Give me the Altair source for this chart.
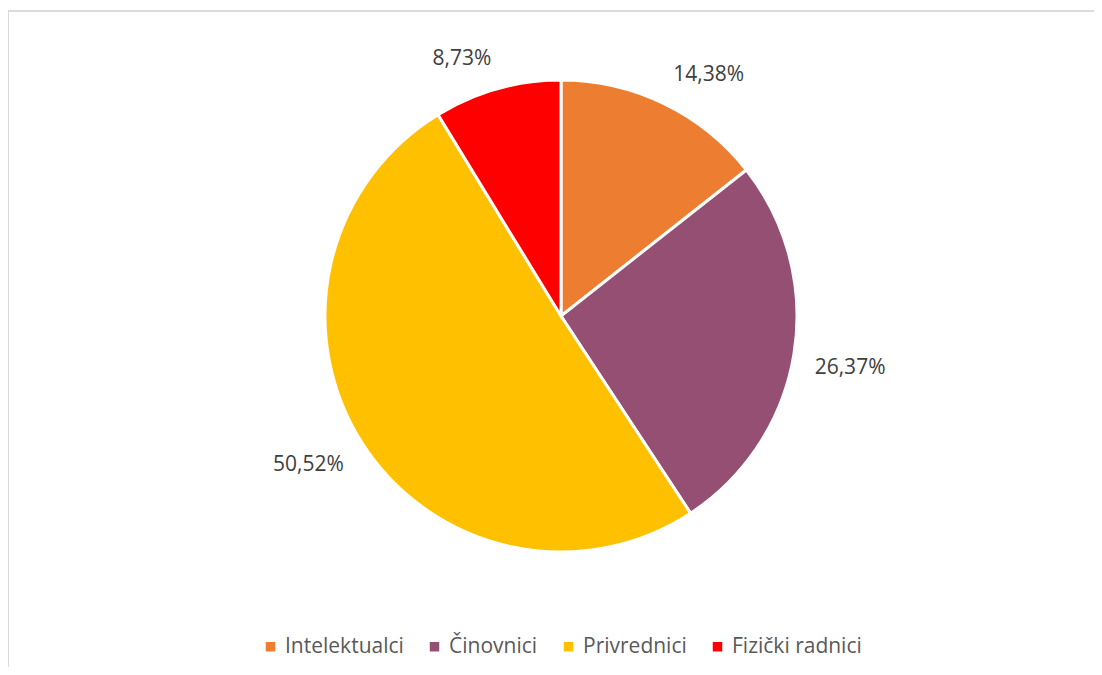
import altair as alt
import pandas as pd

categories = ["Intelektualci", "Činovnici", "Privrednici", "Fizički radnici"]
values = [14.38, 26.37, 50.52, 8.73]
labels = ["14,38%", "26,37%", "50,52%", "8,73%"]
colors = ["#ED7D31", "#954F72", "#FFC000", "#FF0000"]

df = pd.DataFrame({
    "kategorija": categories,
    "vrijednost": values,
    "oznaka": labels,
    "red": list(range(len(categories))),
})

W, H = 1086, 659
CX, CY = 553, 308

base = alt.Chart(df).encode(
    theta=alt.Theta("vrijednost:Q", stack=True),
    order=alt.Order("red:O"),
)

pie = base.mark_arc(radius=236, stroke="white", strokeWidth=3).encode(
    x=alt.value(CX),
    y=alt.value(CY),
    color=alt.Color(
        "kategorija:N",
        scale=alt.Scale(domain=categories, range=colors),
        sort=categories,
        legend=alt.Legend(
            title=None,
            orient="none",
            direction="horizontal",
            legendX=252,
            legendY=628,
            symbolType="square",
            symbolSize=90,
            symbolStrokeWidth=0,
            labelFontSize=21,
            labelFont="Open Sans",
            labelColor="#595959",
            columnPadding=20,
            symbolOffset=0,
            labelOffset=4,
        ),
    ),
)

text = (
    base.transform_joinaggregate(ukupno="sum(vrijednost)")
    .transform_window(kum="sum(vrijednost)", sort=[alt.SortField("red")])
    .transform_calculate(
        kut="2*PI*(datum.kum - datum.vrijednost/2)/datum.ukupno"
    )
    .mark_text(
        radius=257,
        fontSize=21,
        font="Open Sans",
        color="#404040",
        align=alt.expr("sin(datum.kut) >= 0 ? 'left' : 'right'"),
        baseline=alt.expr("cos(datum.kut) >= 0 ? 'bottom' : 'top'"),
    )
    .encode(x=alt.value(CX), y=alt.value(CY), text="oznaka:N")
)

border = alt.Chart(df).mark_rule(color="#d9d9d9", strokeWidth=1).encode(
    x=alt.value(0), x2=alt.value(W), y=alt.value(3)
)
border2 = alt.Chart(df).mark_rule(color="#d9d9d9", strokeWidth=2).encode(
    x=alt.value(0), y=alt.value(3), y2=alt.value(H)
)

chart = alt.layer(border, border2, pie, text).properties(
    width=W, height=H, padding=0, background="white",
    autosize=alt.AutoSizeParams(type="none"),
).configure_view(stroke="transparent")

chart.save("out.html", embed_options={"renderer": "svg", "actions": False})
